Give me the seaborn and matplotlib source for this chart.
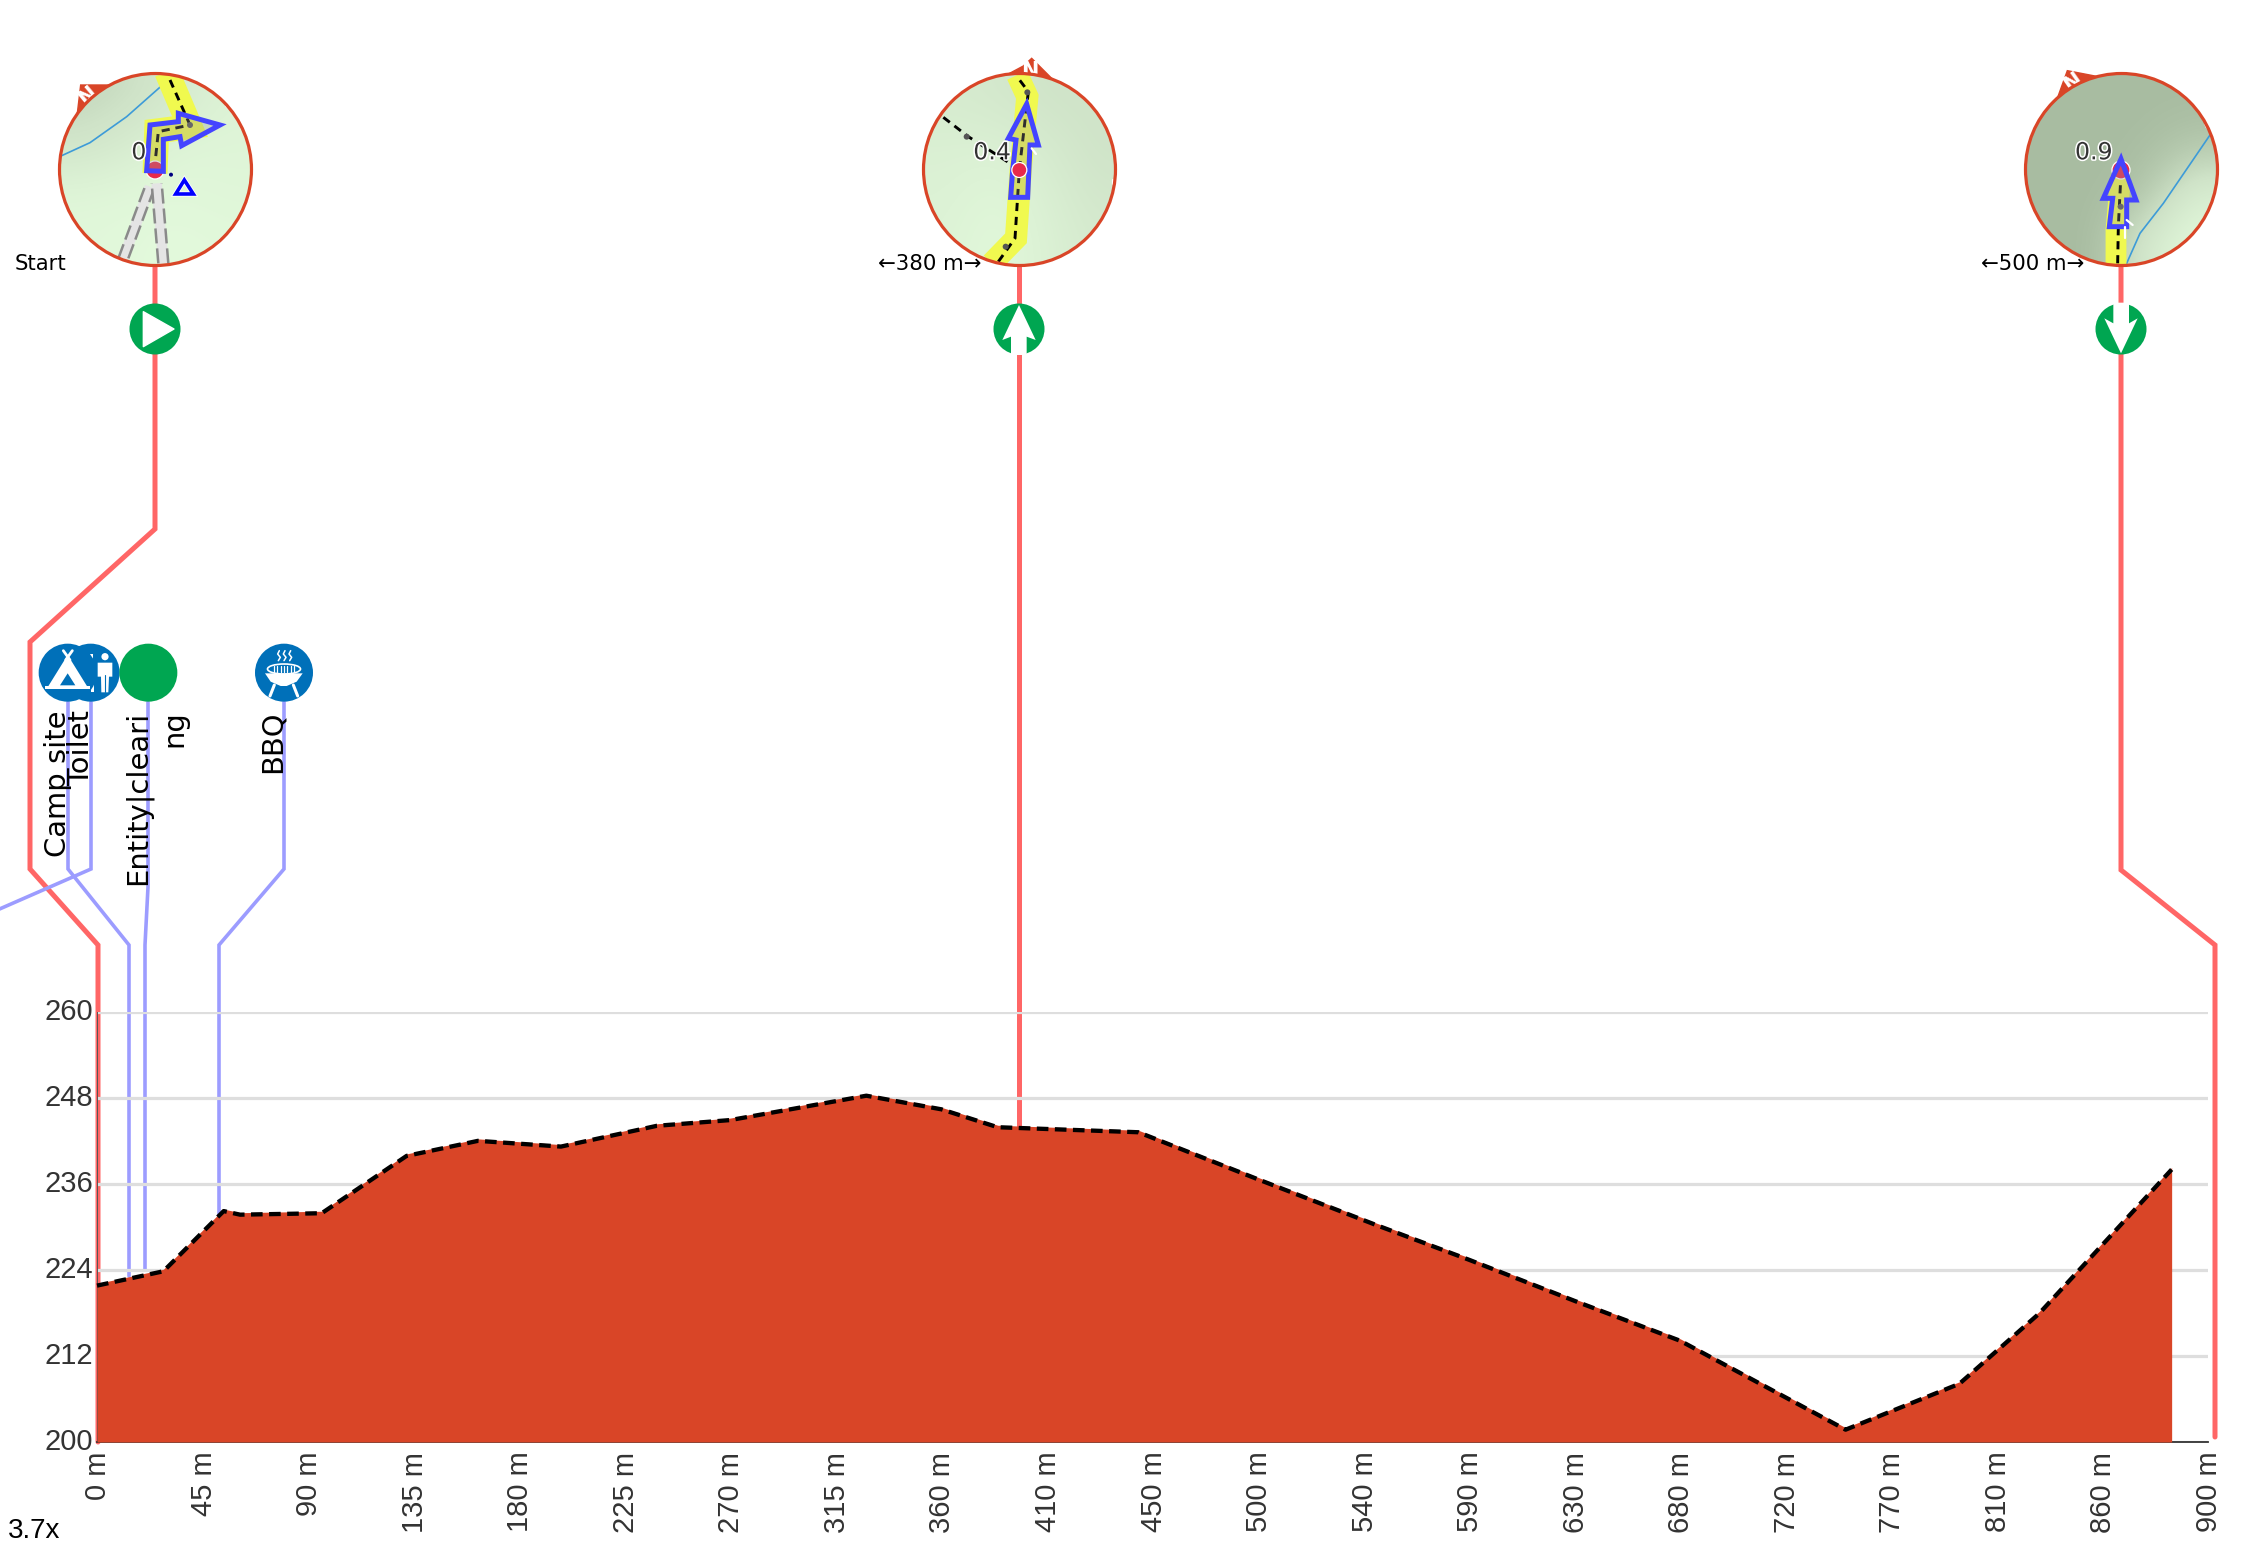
import numpy as np
import pandas as pd
import matplotlib
matplotlib.use('Agg')
import matplotlib.pyplot as plt
import matplotlib.patheffects as pe
import matplotlib.transforms as mtransforms
from matplotlib.colors import LinearSegmentedColormap
from matplotlib.patches import Circle, Polygon, Ellipse, Rectangle
import seaborn as sns

# profile
distance_m = [0, 28.3, 54, 61, 95.8, 132, 162.4, 197.8, 238.7, 270, 328, 360, 384, 444, 496, 545, 585, 630.5, 675, 745.5, 794, 828, 884.5]
elevation_m = [222.1, 224.1, 232.5, 232, 232.2, 240.2, 242.3, 241.5, 244.4, 245.2, 248.6, 246.7, 244.2, 243.5, 236.8, 230.6, 225.7, 219.9, 214.4, 202, 208.4, 218.2, 238.3]
x_ticks = [0, 45, 90, 135, 180, 225, 270, 315, 360, 405, 450, 495, 540, 585, 630, 675, 720, 765, 810, 855, 900]
x_labels = ['0 m', '45 m', '90 m', '135 m', '180 m', '225 m', '270 m', '315 m', '360 m', '410 m', '450 m', '500 m',
            '540 m', '590 m', '630 m', '680 m', '720 m', '770 m', '810 m', '860 m', '900 m']
y_ticks = [200, 212, 224, 236, 248, 260]

waypoint_labels = ['Start', '\u2190380 m\u2192', '\u2190500 m\u2192']
km_labels = ['0', '0.4', '0.9']
poi_labels = ['Camp site', 'Toilet', 'Entity|cleari', 'ng', 'BBQ']

W, H = 2246, 1549
RED = '#ff6666'
LEADER = '#9c9cff'
ORANGE = '#d94527'
GREEN = '#00a651'
BLUE = '#0070b9'
PATH_BLUE = '#4444ff'
YELLOW = '#f0f94f'

sns.set_style('white')
fig = plt.figure(figsize=(W / 100, H / 100), dpi=100)
fig.patch.set_facecolor('white')

# overlay in picture pixels for the maps, icons and leaders
ov = fig.add_axes([0, 0, 1, 1], zorder=0)
ov.set_xlim(0, W)
ov.set_ylim(H, 0)
ov.axis('off')

ax = fig.add_axes([97 / W, 1 - 1442 / H, (2208 - 97) / W, (1442 - 1012) / H], zorder=1)
ax.patch.set_visible(False)

df = pd.DataFrame({'distance': distance_m, 'elevation': elevation_m})
ax.fill_between(df['distance'], 200, df['elevation'], color=ORANGE, lw=0, zorder=3)
sns.lineplot(data=df, x='distance', y='elevation', ax=ax, color='black', lw=3.1, zorder=4, errorbar=None, sort=False)
line = ax.lines[-1]
line.set_linestyle((0, (2.7, 1.5)))
line.set_transform(ax.transData + mtransforms.Affine2D().translate(0, -2))
line.set_clip_on(False)

ax.set_xlim(0, 900)
ax.set_ylim(200, 260)
ax.set_xticks(x_ticks)
ax.set_xticklabels(x_labels, rotation=90, fontfamily='Liberation Sans', fontsize=21, color='#333333')
ax.set_yticks(y_ticks)
ax.set_yticklabels([str(v) for v in y_ticks], fontfamily='Liberation Sans', fontsize=21, color='#333333')
ax.tick_params(axis='x', length=0, pad=7)
ax.tick_params(axis='y', length=0, pad=3)
for t in ax.get_yticklabels():
    t.set_transform(t.get_transform() + mtransforms.Affine2D().translate(0, 3))
for t in ax.get_xticklabels():
    t.set_transform(t.get_transform() + mtransforms.Affine2D().translate(1, 0))
ax.set_xlabel('')
ax.set_ylabel('')
ax.grid(True, axis='y', color='#dedede', lw=2.3, zorder=1)
ax.set_axisbelow(True)
for s in ['top', 'right']:
    ax.spines[s].set_visible(False)
ax.spines['bottom'].set_color('#333333')
ax.spines['bottom'].set_linewidth(1.3)
ax.spines['left'].set_color('#555555')
ax.spines['left'].set_linewidth(0.7)

# leaders
red_paths = [
    [(155, 263), (155, 529), (30, 642), (30, 869), (98, 945), (98, 1442)],
    [(1019, 263), (1019, 1128)],
    [(2121, 263), (2121, 870), (2215, 945), (2215, 1437)],
]
for p in red_paths:
    xs, ys = zip(*p)
    ov.plot(xs, ys, color=RED, lw=3.6, solid_joinstyle='miter', zorder=2)
blue_paths = [
    [(68, 702), (68, 869), (129, 945), (129, 1276)],
    [(91, 702), (91, 869), (-5, 911)],
    [(148, 702), (148, 887), (145, 945), (145, 1270)],
    [(284, 702), (284, 869), (219, 945), (219, 1214)],
]
for p in blue_paths:
    xs, ys = zip(*p)
    ov.plot(xs, ys, color=LEADER, lw=2.6, solid_joinstyle='miter', zorder=2, clip_on=True)


def zp(ox, pts):
    # zoomed crop coordinates to picture pixels
    return [(ox + a / 3, 30 + b / 3) for a, b in pts]


def draw_map(ox, cx, shade, compass, n_pos, n_rot, yellow, road_w, dashed, river, dots, red_dot, dot_z, arrow, km, km_pos, marks):
    cy, r = 169.5, 96
    ov.add_patch(Polygon(zp(ox, compass), closed=True, fc=ORANGE, ec=ORANGE, lw=1, zorder=3))
    nx, ny = zp(ox, [n_pos])[0]
    ov.text(nx, ny, 'N', color='white', fontsize=15, fontweight='bold', rotation=n_rot, ha='center', va='center', zorder=4)
    clip = Circle((cx, cy), r, transform=ov.transData)
    cmap = LinearSegmentedColormap.from_list('bg', ['#a8bca1', '#cfe3c8', '#e3fadc'])
    im = ov.imshow(shade, extent=(cx - r, cx + r, cy + r, cy - r), aspect='auto', cmap=cmap, vmin=0, vmax=1,
                   interpolation='bicubic', zorder=5)
    im.set_clip_path(clip)
    ov.set_xlim(0, W)
    ov.set_ylim(H, 0)
    clipped = []
    if river:
        xs, ys = zip(*zp(ox, river))
        clipped += ov.plot(xs, ys, color='#3d9bd8', lw=1.2, zorder=6)
    xs, ys = zip(*zp(ox, yellow))
    clipped += ov.plot(xs, ys, color=YELLOW, lw=road_w, solid_joinstyle='miter', solid_capstyle='butt', zorder=6)
    for d in dashed:
        xs, ys = zip(*zp(ox, d))
        clipped += ov.plot(xs, ys, color='black', lw=2.1, ls=(0, (2.8, 2)), zorder=7)
    for c in clipped:
        c.set_clip_path(clip)
    for d in dots:
        ov.add_patch(Circle(zp(ox, [d])[0], 3, fc='#555555', ec='none', zorder=8))
    ov.add_patch(Circle(zp(ox, [red_dot[:2]])[0], red_dot[2], fc='#e8294a', ec='white', lw=0.9, zorder=dot_z))
    ov.add_patch(Polygon(zp(ox, arrow), closed=True, fc=(0.6, 0.6, 0.6, 0.3), ec=PATH_BLUE, lw=3.6, joinstyle='miter', zorder=9))
    kx, ky = zp(ox, [km_pos])[0]
    ov.text(kx, ky, km, fontsize=17, color='#333333', ha='left', va='baseline', zorder=10,
            path_effects=[pe.withStroke(linewidth=2.2, foreground='white')])
    for m in marks:
        xs, ys = zip(*zp(ox, m))
        ov.plot(xs, ys, color='white', lw=1.6, zorder=10)
    ov.add_patch(Circle((cx, cy), r, fc='none', ec=ORANGE, lw=2.3, zorder=11))


shade_1 = [[0.35, 0.45, 0.65, 0.85], [0.55, 0.72, 0.9, 0.9], [0.92, 0.95, 0.95, 0.92], [0.95, 0.97, 1.0, 0.97]]
shade_2 = [[0.68, 0.62, 0.52, 0.52], [0.78, 0.8, 0.68, 0.52], [0.82, 0.92, 0.78, 0.58], [0.85, 0.97, 0.82, 0.66]]
shade_3 = [[0.0, 0.0, 0.0, 0.0], [0.0, 0.0, 0.02, 0.15], [0.0, 0.0, 0.1, 0.75], [0.0, 0.0, 0.65, 1.0]]

draw_map(0, 155.5, shade_1,
         [(242, 165), (330, 165), (270, 195), (232, 250)], (265, 197), 40,
         [(500, 125), (570, 290), (470, 303), (465, 430)], 18,
         [[(510, 150), (570, 285), (475, 305), (465, 400)]],
         [(185, 377), (270, 338), (380, 260), (510, 145)],
         [(570, 285)], (465, 420, 9), 8,
         [(440, 422), (450, 285), (535, 275), (535, 250), (660, 285), (545, 347), (540, 320), (490, 328), (490, 424)],
         km_labels[0], (394, 388), [[(678, 228), (688, 238)], [(243, 606), (252, 614)], [(650, 638), (660, 628)]])
draw_map(860, 1019.5, shade_2,
         [(445, 132), (490, 108), (515, 85), (545, 115), (580, 150)], (510, 124), 0,
         [(395, 700), (468, 625), (482, 420), (502, 200), (472, 135)], 16,
         [[(415, 695), (465, 625), (478, 420), (505, 185), (475, 145)], [(250, 262), (325, 320), (450, 400)]],
         None, [(320, 320), (437, 650), (502, 187)], (478, 420, 7.5), 10,
         [(452, 502), (503, 502), (510, 345), (535, 345), (500, 222), (445, 325), (468, 330), (458, 420)],
         km_labels[1], (340, 388), [[(515, 355), (528, 372)], [(190, 382), (190, 392)], [(760, 450), (760, 462)]])
draw_map(1950, 2121.5, shade_3,
         [(352, 122), (445, 140), (375, 165), (322, 205)], (368, 156), 35,
         [(498, 710), (498, 600), (512, 440)], 15,
         [[(503, 700), (505, 590), (512, 450)]],
         [(530, 700), (570, 610), (640, 520), (780, 315)],
         [(512, 530)], (513, 420, 9), 8,
         [(478, 590), (530, 590), (530, 510), (558, 510), (513, 387), (460, 505), (488, 505)],
         km_labels[2], (375, 388), [[(530, 570), (548, 585)], [(525, 590), (525, 625)], [(765, 280), (770, 292)]])

# grey roads and campsite symbol on the first map
clip_1 = Circle((155.5, 169.5), 96, transform=ov.transData)
for road in [[(370, 685), (450, 470)], [(490, 700), (470, 460)]]:
    xs, ys = zip(*zp(0, road))
    g = ov.plot(xs, ys, color='#e4e4e4', lw=7.5, solid_capstyle='butt', zorder=6)[0]
    g.set_clip_path(clip_1)
    for off in [-5, 5]:
        e = ov.plot(np.array(xs) + off, ys, color='#8a8a8a', lw=1.8, ls=(0, (6, 2)), zorder=6)[0]
        e.set_clip_path(clip_1)
ov.add_patch(Polygon(zp(0, [(553, 450), (527, 492), (580, 492)]), closed=True, fc='none', ec='#0000ff', lw=2.6, zorder=8,
                     path_effects=[pe.withStroke(linewidth=3.8, foreground='white')]))
ov.add_patch(Circle(zp(0, [(513, 434)])[0], 2, fc='#000080', ec='none', zorder=8))

# turn icons
for cx in [155, 1019, 2121]:
    ov.add_patch(Circle((cx, 329), 25.5, fc=GREEN, ec='none', zorder=3))
ov.add_patch(Polygon(zp(0, [(430, 845), (522, 897), (430, 950)]), closed=True, fc='white', ec='white', lw=1, joinstyle='round', zorder=4))
ov.add_patch(Polygon(zp(860, [(477, 825), (527, 930), (500, 920), (500, 975), (453, 975), (453, 920), (427, 930)]), closed=True,
                     fc='white', ec='none', zorder=4))
ov.add_patch(Polygon(zp(1950, [(513, 970), (463, 865), (490, 880), (490, 818), (537, 818), (537, 880), (563, 865)]), closed=True,
                     fc='white', ec='none', zorder=4))


def zi(a, b):
    # crop of the point-of-interest icons
    return (a / 3, 620 + b / 3)


# toilet first, the tent sits on it
ov.add_patch(Circle(zi(272, 158), 29, fc=BLUE, ec='none', zorder=3))
ov.add_patch(Circle(zi(315, 110), 3.6, fc='white', ec='none', zorder=4))
ov.add_patch(Polygon([zi(293, 128), zi(337, 128), zi(337, 170), zi(327, 170), zi(325, 217), zi(304, 217), zi(303, 170), zi(293, 170)],
                     closed=True, fc='white', ec='none', zorder=4))
ov.plot(*zip(zi(315, 165), zi(315, 217)), color=BLUE, lw=0.8, zorder=5)
ov.add_patch(Rectangle(zi(268, 102), 4, 13, fc='white', ec='none', zorder=4))
ov.add_patch(Rectangle(zi(272, 188), 3, 9, fc='white', ec='none', zorder=4))

ov.add_patch(Circle(zi(203, 158), 29, fc=BLUE, ec='none', zorder=5))
ov.add_patch(Polygon([zi(203, 105), zi(262, 200), zi(144, 200)], closed=True, fc='white', ec='none', zorder=6))
ov.add_patch(Rectangle(zi(135, 199), 45, 3, fc='white', ec='none', zorder=6))
ov.add_patch(Polygon([zi(203, 160), zi(226, 196), zi(180, 196)], closed=True, fc=BLUE, ec='none', zorder=7))
ov.plot(*zip(zi(190, 92), zi(210, 120)), color='white', lw=2, zorder=6)
ov.plot(*zip(zi(217, 92), zi(197, 120)), color='white', lw=2, zorder=6)

ov.add_patch(Circle(zi(445, 158), 29, fc=GREEN, ec='none', zorder=6))

ov.add_patch(Circle(zi(852, 158), 29, fc=BLUE, ec='none', zorder=3))
ov.add_patch(Ellipse(zi(852, 147), 33, 10, fc='none', ec='white', lw=1.2, zorder=5))
for a in [822, 832, 842, 852, 862, 872, 882]:
    ov.plot(*zip(zi(a, 139), zi(a, 155)), color='white', lw=0.9, zorder=5)
ov.add_patch(Polygon([zi(795, 160), zi(908, 160), zi(890, 185), zi(860, 198), zi(842, 198), zi(812, 185)], closed=True, fc='white', ec='none', zorder=4))
ov.plot(*zip(zi(823, 195), zi(810, 228)), color='white', lw=2.2, zorder=5)
ov.plot(*zip(zi(880, 195), zi(893, 228)), color='white', lw=2.2, zorder=5)
for a in [838, 855, 872]:
    ov.plot(*zip(zi(a, 92), zi(a - 5, 102), zi(a + 3, 112), zi(a - 3, 122)), color='white', lw=1.1, zorder=5)

# texts
label_props = {'rotation': 90, 'rotation_mode': 'anchor', 'ha': 'right', 'va': 'baseline', 'fontsize': 20.9,
               'color': 'black', 'zorder': 8}
ov.text(66, 710, poi_labels[0], **label_props)
ov.text(89, 710, poi_labels[1], **label_props)
ov.text(146, 711, poi_labels[2], **label_props)
ov.text(182, 710, poi_labels[3], **label_props)
ov.text(281, 710, poi_labels[4], **label_props)

ov.text(15, 270, waypoint_labels[0], fontsize=15.3, color='black', zorder=12)
ov.text(878, 270, waypoint_labels[1], fontsize=15.3, color='black', zorder=12)
ov.text(1981, 270, waypoint_labels[2], fontsize=15.3, color='black', zorder=12)
ov.text(8, 1538, '3.7x', fontfamily='Liberation Sans', fontsize=20, color='black', zorder=12)

plt.savefig('out.png', dpi=100)
plt.close()
